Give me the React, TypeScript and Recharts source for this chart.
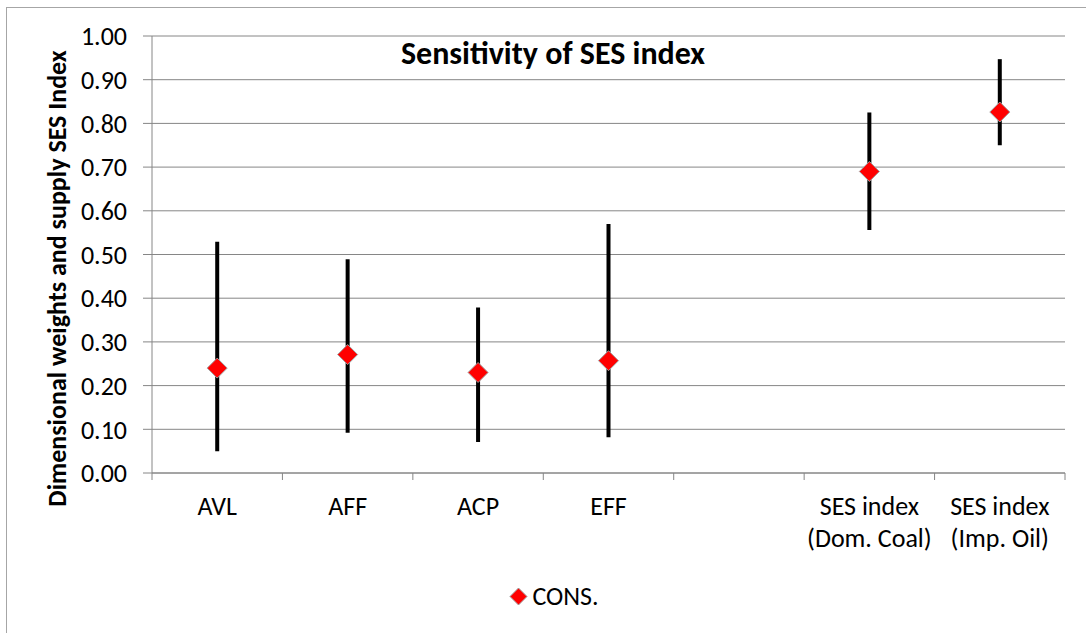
import React from 'react';
import { ComposedChart, Scatter, ErrorBar, XAxis, YAxis, CartesianGrid, Legend } from 'recharts';

const categories = ['AVL', 'AFF', 'ACP', 'EFF', '', 'SES index\n(Dom. Coal)', 'SES index\n(Imp. Oil)'];
const consValues: (number | null)[] = [0.24, 0.271, 0.23, 0.257, null, 0.69, 0.826];
const lowValues: (number | null)[] = [0.05, 0.092, 0.071, 0.082, null, 0.556, 0.75];
const highValues: (number | null)[] = [0.529, 0.489, 0.379, 0.57, null, 0.825, 0.947];
const yTicks = [0, 0.1, 0.2, 0.3, 0.4, 0.5, 0.6, 0.7, 0.8, 0.9, 1.0];
const xTicks = [0, 0.5, 1, 1.5, 2, 2.5, 3, 3.5, 4, 4.5, 5, 5.5, 6, 6.5, 7];
const seriesName = 'CONS.';
const chartTitle = 'Sensitivity of SES index';
const yAxisTitle = 'Dimensional weights and supply SES Index';

const FONT = 'Carlito, Calibri, Lato, sans-serif';
const GRID = '#868686';

const data = categories
  .map((c, i) => {
    const v = consValues[i];
    const lo = lowValues[i];
    const hi = highValues[i];
    if (v == null || lo == null || hi == null) return null;
    return { x: i + 0.5, cat: c, cons: v, err: [v - lo, hi - v] };
  })
  .filter(Boolean) as { x: number; cat: string; cons: number; err: number[] }[];

const Diamond = (props: any) => {
  const { cx, cy } = props;
  if (cx == null || cy == null) return null;
  const r = 10;
  return (
    <polygon
      points={`${cx},${cy - r} ${cx + r},${cy} ${cx},${cy + r} ${cx - r},${cy}`}
      fill="#FF0000"
      stroke="#A0A0A0"
      strokeWidth={1}
    />
  );
};

const XTick = (props: any) => {
  const { x, y, payload } = props;
  const v = payload.value as number;
  if (Number.isInteger(v)) {
    return <line x1={x} x2={x} y1={y - 7} y2={y} stroke={GRID} strokeWidth={1} />;
  }
  const label = categories[Math.floor(v)] || '';
  const lines = label.split('\n');
  return (
    <text x={x} y={y} textAnchor="middle" fontFamily={FONT} fontSize={26} fill="#000">
      {lines.map((l, i) => (
        <tspan key={i} x={x} dy={i === 0 ? 35 : 32}>
          {l}
        </tspan>
      ))}
    </text>
  );
};

const YLabel = (props: any) => {
  const { viewBox } = props;
  const cx = viewBox.x + 57;
  const cy = viewBox.y + viewBox.height / 2 + 24;
  return (
    <text
      x={cx}
      y={cy}
      transform={`rotate(-90 ${cx} ${cy})`}
      textAnchor="middle"
      dominantBaseline="central"
      fontFamily={FONT}
      fontWeight="bold"
      fontSize={26}
      fill="#000"
    >
      {yAxisTitle}
    </text>
  );
};

const LegendContent = () => (
  <div
    style={{
      display: 'flex',
      justifyContent: 'center',
      alignItems: 'center',
      height: 30,
      paddingLeft: 22,
      fontFamily: FONT,
      fontSize: 26,
      color: '#000',
    }}
  >
    <svg width={19} height={19} style={{ marginRight: 4 }}>
      <polygon points="9.5,1 18,9.5 9.5,18 1,9.5" fill="#FF0000" stroke="#A0A0A0" strokeWidth={1} />
    </svg>
    <span style={{ lineHeight: '30px' }}>{seriesName}</span>
  </div>
);

export default function App() {
  return (
    <div style={{ position: 'absolute', left: 0, top: 0, width: 1086, height: 633, background: '#fff', overflow: 'hidden' }}>
      <div
        style={{
          position: 'absolute',
          left: 6,
          top: 7,
          width: 1200,
          height: 800,
          border: '1px solid #A6A6A6',
          boxSizing: 'border-box',
        }}
      />
      <ComposedChart
        width={1086}
        height={633}
        data={data}
        margin={{ top: 36, right: 21, left: 0, bottom: 22 }}
        style={{ position: 'absolute', left: 0, top: 0 }}
      >
        <CartesianGrid vertical={false} stroke={GRID} strokeWidth={1} />
        <XAxis
          type="number"
          dataKey="x"
          domain={[0, 7]}
          ticks={xTicks}
          interval={0}
          tickLine={false}
          tickSize={7}
          tickMargin={0}
          tick={<XTick />}
          axisLine={{ stroke: GRID }}
          height={108}
        />
        <YAxis
          type="number"
          domain={[0, 1]}
          ticks={yTicks}
          interval={0}
          tickFormatter={(v: number) => v.toFixed(2)}
          tickSize={9}
          tickMargin={16}
          width={152}
          axisLine={{ stroke: GRID }}
          tickLine={{ stroke: GRID }}
          tick={{ fontFamily: FONT, fontSize: 26, fill: '#000' }}
          label={<YLabel />}
        />
        <Legend
          verticalAlign="bottom"
          align="center"
          content={<LegendContent />}
          wrapperStyle={{ left: 0, width: 1086, height: 30 }}
        />
        <Scatter
          name={seriesName}
          dataKey="cons"
          fill="#FF0000"
          legendType="diamond"
          shape={<Diamond />}
          isAnimationActive={false}
        >
          <ErrorBar dataKey="err" direction="y" width={0} stroke="#000" strokeWidth={4} isAnimationActive={false} />
        </Scatter>
      </ComposedChart>
      <div
        style={{
          position: 'absolute',
          left: 303,
          width: 500,
          top: 34,
          textAlign: 'center',
          fontFamily: FONT,
          fontWeight: 'bold',
          fontSize: 32,
          lineHeight: '40px',
          color: '#000',
          whiteSpace: 'nowrap',
        }}
      >
        {chartTitle}
      </div>
    </div>
  );
}
